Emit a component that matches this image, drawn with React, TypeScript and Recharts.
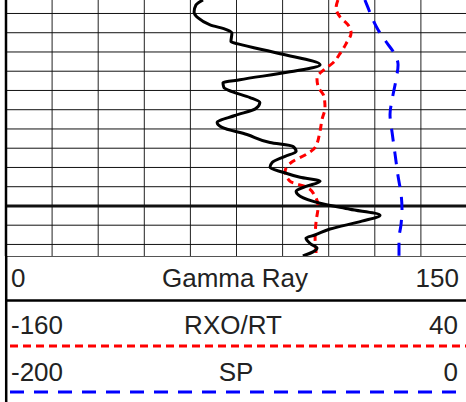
import { LineChart, Line, XAxis, YAxis, ReferenceLine } from 'recharts';

// depth in ft (top of track to bottom)
const depthTicks = [900, 910, 920, 930, 940, 950, 960, 970, 980, 990, 1000, 1010, 1020];
const gammaTicks = [15, 30, 45, 60, 75, 90, 105, 120, 135, 150];

const gammaDepth = [893, 895.6, 899.2, 902.3, 905.9, 908.5, 910.1, 914.7, 915.8, 920.9, 926.6, 930.3, 934.4, 936, 938.5, 940.6, 943.7, 946.3, 949.4, 953, 956.7, 959.2, 962.9, 967, 969.1, 971.7, 974.2, 977.4, 979.9, 982.5, 985.1, 987.2, 989.8, 992.4, 995, 998.6, 1001.7, 1004.8, 1007.9, 1012, 1015.1, 1016.7, 1019.8, 1021.9, 1026];
const gammaValues = [64.1, 61.8, 61.2, 62.5, 66.4, 71.9, 73.5, 73.2, 75.5, 89.2, 102.2, 92.4, 76.1, 70.6, 70.9, 73.5, 79.4, 82.6, 81.3, 74.5, 68.7, 70.3, 78.4, 85.9, 93.4, 94.4, 90.8, 86.6, 85.9, 90.1, 95.7, 102.2, 97.6, 94.4, 95.7, 102.2, 111.9, 121.7, 115.8, 105.4, 100.5, 97.6, 99.2, 101.2, 96.6];

const rxoDepth = [893, 897.1, 901.8, 905.9, 910.1, 915.8, 920.9, 925.6, 929.2, 933.4, 938, 943.2, 948.9, 955.1, 961.3, 969.6, 973.2, 976.8, 982, 987.2, 990.3, 995, 1000.1, 1008.4, 1017.2, 1023.9, 1026];
const rxoValues = [-16.0, -16.8, -15.1, -11.6, -10.3, -12.5, -15.1, -18.1, -22.0, -25.1, -24.6, -22.0, -21.6, -22.9, -23.8, -25.9, -29.8, -35.5, -38.9, -36.8, -29.4, -25.9, -24.6, -25.5, -25.9, -25.5, -25.5];

const spDepth = [893, 897.1, 902.3, 908.5, 914.7, 921.5, 926.6, 934.4, 944.8, 952.5, 961.8, 973.2, 984.6, 993.9, 1001.7, 1009.4, 1017.2, 1026];
const spValues = [-44.3, -42.9, -41.2, -38.6, -35.1, -31.2, -29.9, -30.8, -32.5, -33.4, -32.5, -31.2, -29.9, -28.6, -28.2, -28.6, -29.5, -29.5];

const gammaData = gammaDepth.map((depth, i) => ({ depth, gr: gammaValues[i] }));
const rxoData = rxoDepth.map((depth, i) => ({ depth, rxo: rxoValues[i] }));
const spData = spDepth.map((depth, i) => ({ depth, sp: spValues[i] }));

const font = '"Liberation Sans", Arial, sans-serif';

function TrackHeader() {
    return (
        <svg width={466} height={146} style={{ position: 'absolute', left: 0, top: 256, fontFamily: font }}>
            <line x1={6} x2={466} y1={0.5} y2={0.5} stroke="#555" strokeWidth={1} />
            <line x1={6} x2={466} y1={44.5} y2={44.5} stroke="#000" strokeWidth={2.5} />
            <line x1={6.2} x2={6.2} y1={0} y2={146} stroke="#000" strokeWidth={2.5} />
            <text x={11} y={31} fontSize={26} fill="#222">0</text>
            <text x={235} y={31} fontSize={26} fill="#222" textAnchor="middle">Gamma Ray</text>
            <text x={459} y={31} fontSize={26} fill="#222" textAnchor="end">150</text>
            <text x={11} y={78} fontSize={26} fill="#222">-160</text>
            <text x={233} y={78} fontSize={26} fill="#222" textAnchor="middle">RXO/RT</text>
            <text x={458} y={78} fontSize={26} fill="#222" textAnchor="end">40</text>
            <line x1={10} x2={466} y1={90} y2={90} stroke="#ff0000" strokeWidth={3} strokeDasharray="8 5" />
            <text x={11} y={125} fontSize={26} fill="#222">-200</text>
            <text x={236} y={125} fontSize={26} fill="#222" textAnchor="middle">SP</text>
            <text x={458} y={125} fontSize={26} fill="#222" textAnchor="end">0</text>
            <line x1={10} x2={466} y1={136} y2={136} stroke="#0000ff" strokeWidth={3} strokeDasharray="14 10" />
        </svg>
    );
}

export default function App() {
    return (
        <div style={{ position: 'absolute', left: 0, top: 0, width: 466, height: 402, background: '#fff', overflow: 'hidden' }}>
            <div style={{ position: 'absolute', left: 0, top: 0 }}>
                <LineChart width={467} height={256} layout="vertical" margin={{ top: 0, right: 0, bottom: 0, left: 6 }}>
                    <XAxis xAxisId="gr" type="number" dataKey="gr" domain={[0, 150]} allowDataOverflow hide />
                    <XAxis xAxisId="rxo" type="number" dataKey="rxo" domain={[-160, 40]} allowDataOverflow hide />
                    <XAxis xAxisId="sp" type="number" dataKey="sp" domain={[-200, 0]} allowDataOverflow hide />
                    <YAxis type="number" dataKey="depth" domain={[893, 1026]} allowDataOverflow hide />
                    {gammaTicks.map((g) => (
                        <ReferenceLine key={'v' + g} xAxisId="gr" x={g} stroke="#222" strokeWidth={1} />
                    ))}
                    {depthTicks.map((d) => (
                        <ReferenceLine key={'h' + d} xAxisId="gr" y={d} stroke="#111" strokeWidth={d === 1000 ? 3 : 1} />
                    ))}
                    <ReferenceLine xAxisId="gr" x={0} stroke="#000" strokeWidth={2.5} />
                    <Line xAxisId="sp" data={spData} dataKey="sp" type="monotone" stroke="#0000ff" strokeWidth={3} strokeDasharray="13 10" dot={false} isAnimationActive={false} />
                    <Line xAxisId="rxo" data={rxoData} dataKey="rxo" type="monotone" stroke="#ff0000" strokeWidth={3} strokeDasharray="7 5" dot={false} isAnimationActive={false} />
                    <Line xAxisId="gr" data={gammaData} dataKey="gr" type="monotone" stroke="#000" strokeWidth={3} dot={false} isAnimationActive={false} />
                </LineChart>
            </div>
            <TrackHeader />
        </div>
    );
}
